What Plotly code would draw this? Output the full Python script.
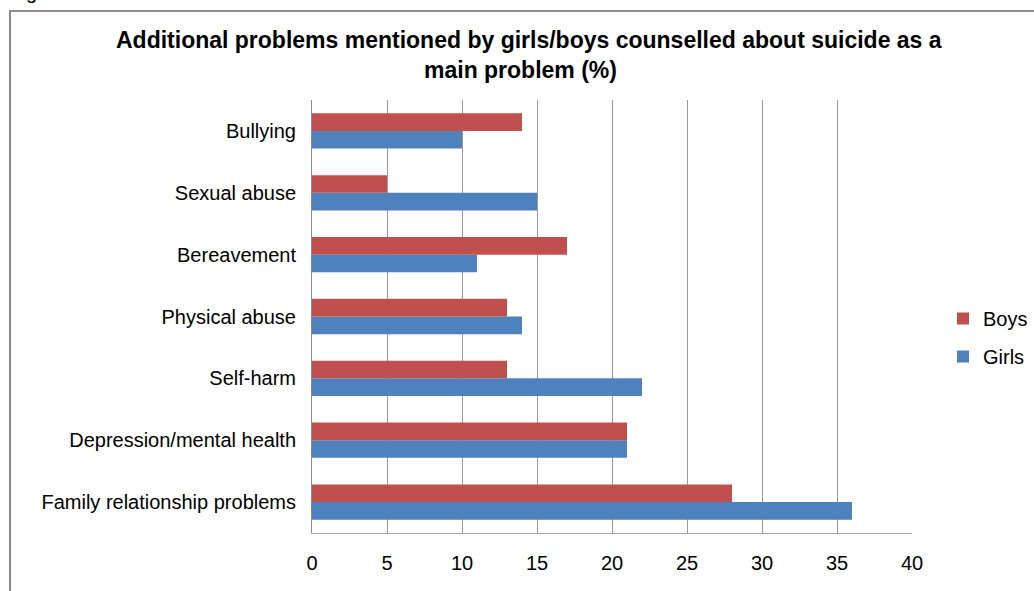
import plotly.graph_objects as go

# Problems, listed bottom-to-top as they appear on the category axis
problems = [
    "Family relationship problems",
    "Depression/mental health",
    "Self-harm",
    "Physical abuse",
    "Bereavement",
    "Sexual abuse",
    "Bullying",
]
girls = [36, 21, 22, 14, 11, 15, 10]
boys = [28, 21, 13, 13, 17, 5, 14]

x_ticks = [0, 5, 10, 15, 20, 25, 30, 35, 40]

title_lines = [
    "Additional problems mentioned by girls/boys counselled about suicide as a",
    "main problem (%)",
]
title_centres = [529, 520]

FONT = "Liberation Sans, Arial, sans-serif"
RED = "#C0504D"
BLUE = "#4F81BD"
GRID = "#9a9a9a"

W, H = 1034, 591
M_L, M_R, M_T, M_B = 312, 122, 100, 58
plot_w = W - M_L - M_R
plot_h = H - M_T - M_B


def px_x(px):
    return (px - M_L) / plot_w


def px_y(py):
    return (H - M_B - py) / plot_h


fig = go.Figure()
fig.add_trace(go.Bar(
    y=problems, x=girls, name="Girls", orientation="h",
    marker=dict(color=BLUE, line=dict(width=0)),
    legendgroup="g", legendrank=2,
))
fig.add_trace(go.Bar(
    y=problems, x=boys, name="Boys", orientation="h",
    marker=dict(color=RED, line=dict(width=0)),
    legendgroup="b", legendrank=1,
))

# Title, one annotation per line
for i, line in enumerate(title_lines):
    fig.add_annotation(
        text=f"<b>{line}</b>", xref="paper", yref="paper",
        x=px_x(title_centres[i]), y=px_y(40 + 30 * i),
        xanchor="center", yanchor="middle",
        showarrow=False, font=dict(family=FONT, size=23, color="#000000"),
    )

# Caption fragment peeking in above the chart frame
fig.add_annotation(
    text="g", xref="paper", yref="paper", x=px_x(24), y=px_y(5),
    xanchor="left", yanchor="bottom", showarrow=False,
    font=dict(family=FONT, size=20, color="#000000"),
)

# Chart frame
fig.add_shape(
    type="rect", xref="paper", yref="paper",
    x0=px_x(10), x1=px_x(1050), y0=px_y(620), y1=px_y(11),
    line=dict(color="#8c8c8c", width=2), fillcolor="rgba(0,0,0,0)", layer="below",
)

fig.update_layout(
    width=W, height=H,
    margin=dict(l=M_L, r=M_R, t=M_T, b=M_B, pad=0, autoexpand=False),
    paper_bgcolor="white", plot_bgcolor="white",
    barmode="group", bargap=0.43, bargroupgap=0,
    font=dict(family=FONT, size=20, color="#000000"),
    legend=dict(
        x=px_x(943), y=px_y(299), xanchor="left", yanchor="top",
        traceorder="grouped", tracegroupgap=9,
        font=dict(family=FONT, size=20, color="#000000"),
        bgcolor="rgba(0,0,0,0)", itemwidth=30,
    ),
    xaxis=dict(
        range=[0, 40], tickvals=x_ticks, ticktext=[str(v) for v in x_ticks],
        showgrid=True, gridcolor=GRID, gridwidth=1, zeroline=False,
        showline=True, linecolor="#a6a6a6", linewidth=1,
        ticks="", ticklabelstandoff=12, fixedrange=True,
    ),
    yaxis=dict(
        categoryorder="array", categoryarray=problems,
        showgrid=False, zeroline=False,
        showline=True, linecolor="#8c8c8c", linewidth=1,
        ticks="", ticklabelstandoff=11, fixedrange=True,
    ),
)

fig.write_html("out.html")
